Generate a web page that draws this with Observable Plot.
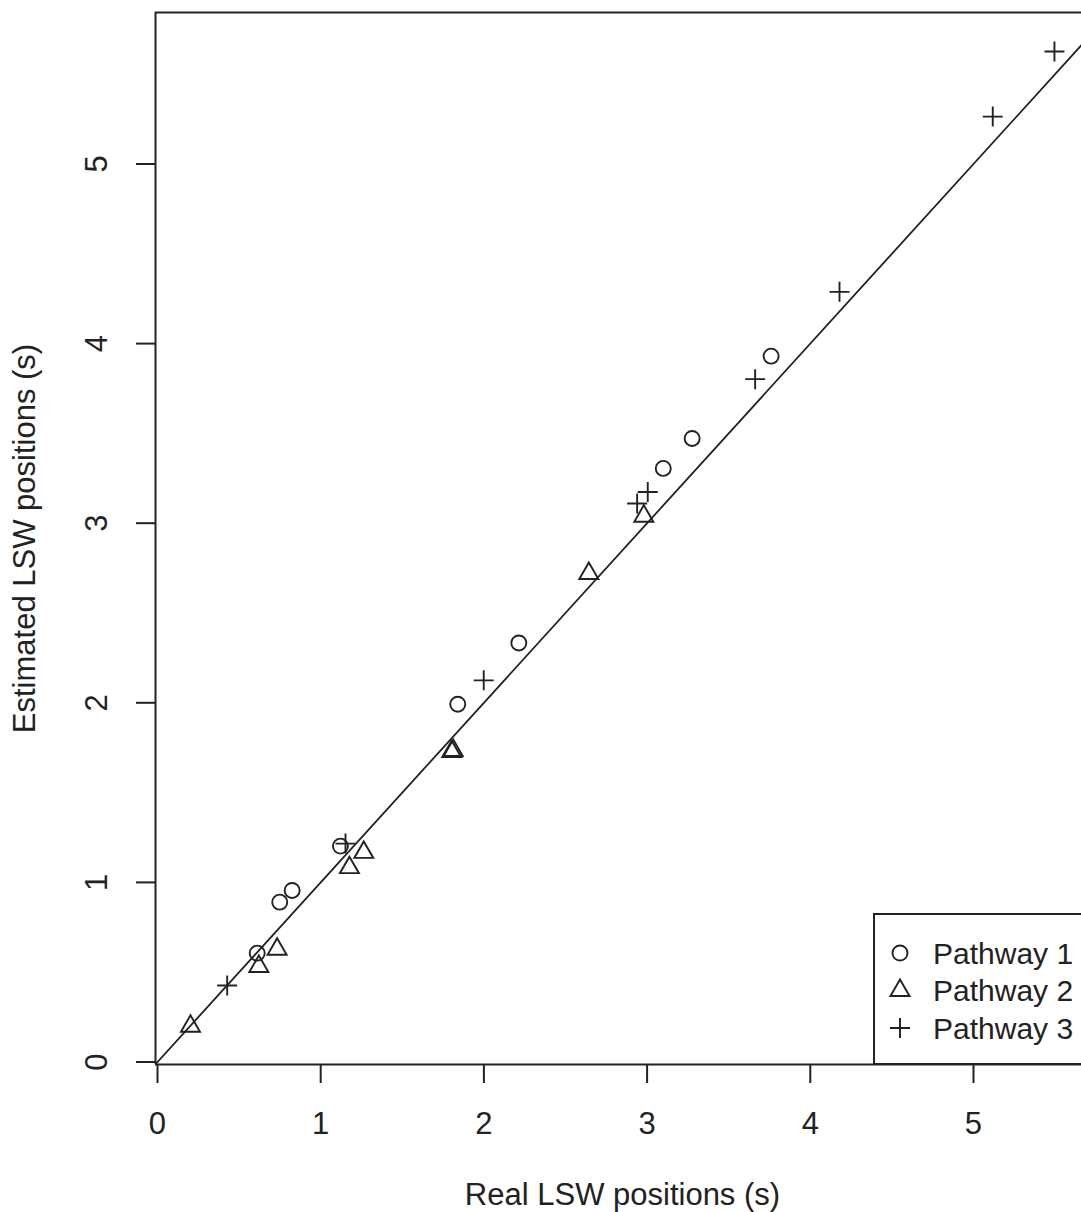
<!DOCTYPE html>
<html><head><meta charset="utf-8">
<script src="https://cdn.jsdelivr.net/npm/d3@7"></script>
<script src="https://cdn.jsdelivr.net/npm/@observablehq/plot@0.6"></script>
<style>
body{margin:0;background:#fff;}
#wrap{position:relative;width:1081px;height:1212px;overflow:hidden;font-family:"Liberation Sans",Arial,Helvetica,sans-serif;}
#wrap svg g[aria-label*="axis"] line, #wrap svg g[aria-label*="axis"] path{stroke-width:2px;}
#legend{position:absolute;left:873px;top:913px;width:300px;height:152px;border:2px solid #222;background:#fff;box-sizing:border-box;}
#legend svg{position:absolute;left:-2px;top:-2px;}
</style>
</head><body>
<div id="wrap"></div>
<script>
// ---- data ----
const p1x = [0.611, 0.749, 0.825, 1.121, 1.840, 2.214, 3.099, 3.276, 3.760];
const p1y = [0.606, 0.890, 0.955, 1.202, 1.992, 2.333, 3.305, 3.472, 3.930];

const p2x = [0.202, 0.621, 0.733, 1.176, 1.264, 1.803, 1.812, 2.643, 2.980];
const p2y = [0.199, 0.532, 0.628, 1.082, 1.167, 1.728, 1.734, 2.720, 3.039];

const p3x = [0.427, 1.152, 1.999, 2.939, 3.004, 3.662, 4.179, 5.118, 5.496];
const p3y = [0.426, 1.216, 2.125, 3.110, 3.174, 3.802, 4.288, 5.264, 5.626];

const xTicks = [0, 1, 2, 3, 4, 5];
const yTicks = [0, 1, 2, 3, 4, 5];
const xDomain = [-0.01225, 5.6618];
const yDomain = [-0.0139, 5.8435];
const refLine = [-1, 7];           // y = x reference line
const xTitle = "Real LSW positions (s)";
const yTitle = "Estimated LSW positions (s)";
const legendLabels = ["Pathway 1", "Pathway 2", "Pathway 3"];

// ---- R-like symbols (radius r = sqrt(size/π)) ----
const rTriangle = {draw(ctx, size){const r = Math.sqrt(size/Math.PI); ctx.moveTo(0,-r); ctx.lineTo(r*0.866, r/2); ctx.lineTo(-r*0.866, r/2); ctx.closePath();}};
const rPlus = {draw(ctx, size){const r = Math.sqrt(size/Math.PI); ctx.moveTo(-r,0); ctx.lineTo(r,0); ctx.moveTo(0,-r); ctx.lineTo(0,r);}};
const series = [
  {xs: p1x, ys: p1y, symbol: "circle", r: 7.5},
  {xs: p2x, ys: p2y, symbol: rTriangle, r: 11},
  {xs: p3x, ys: p3y, symbol: rPlus, r: 10}
];
const ink = "#222";

const rows = s => s.xs.map((x, i) => ({x, y: s.ys[i]}));

const chart = Plot.plot({
  width: 1081, height: 1212,
  marginLeft: 155, marginRight: 0, marginTop: 12, marginBottom: 148,
  style: {fontFamily: "Liberation Sans, Arial, Helvetica, sans-serif", fontSize: "31px", color: ink, background: "#fff", overflow: "visible"},
  x: {domain: xDomain, ticks: xTicks, tickSize: 19, tickPadding: 28, tickFormat: d3.format("d"), label: null},
  y: {domain: yDomain, ticks: yTicks, tickSize: 19, tickFormat: () => "", label: null},
  marks: [
    Plot.ruleY([yDomain[1]], {stroke: ink, strokeWidth: 2}),
    Plot.ruleY([yDomain[0]], {stroke: ink, strokeWidth: 2}),
    Plot.ruleX([xDomain[0]], {stroke: ink, strokeWidth: 2}),
    Plot.line(refLine, {x: d => d, y: d => d, stroke: ink, strokeWidth: 1.8, clip: true}),
    ...series.map(s => Plot.dot(rows(s), {x: "x", y: "y", symbol: s.symbol, r: s.r, stroke: ink, strokeWidth: 1.9, fill: "none"})),
    Plot.text(yTicks, {y: d => d, text: d => String(d), frameAnchor: "left", dx: -58, rotate: -90, textAnchor: "middle", lineAnchor: "middle", fontSize: 31, fill: ink}),
    Plot.text([yTitle], {frameAnchor: "left", dx: -130, rotate: -90, textAnchor: "middle", lineAnchor: "middle", fontSize: 31, fill: ink}),
    Plot.text([xTitle], {frameAnchor: "bottom", dx: 4, dy: 131, textAnchor: "middle", lineAnchor: "middle", fontSize: 31, fill: ink})
  ]
});
const wrap = document.getElementById("wrap");
wrap.appendChild(chart);

// ---- legend box (overlay inside the plot area, bottom-right) ----
const leg = document.createElement("div");
leg.id = "legend";
wrap.appendChild(leg);
const lsvg = d3.select(leg).append("svg").attr("width", 300).attr("height", 152);
legendLabels.forEach((lab, i) => {
  const cy = 40 + i * 37.5;
  const s = series[i];
  const type = typeof s.symbol === "string" ? d3.symbolCircle : s.symbol;
  lsvg.append("path")
    .attr("d", d3.symbol(type, Math.PI * s.r * s.r)())
    .attr("transform", `translate(27,${cy})`)
    .attr("fill", "none").attr("stroke", ink).attr("stroke-width", 1.9);
  lsvg.append("text")
    .attr("x", 60).attr("y", cy).attr("dy", "0.35em")
    .attr("font-size", 30).attr("fill", ink)
    .attr("font-family", "Liberation Sans, Arial, Helvetica, sans-serif")
    .text(lab);
});
</script>
</body></html>
